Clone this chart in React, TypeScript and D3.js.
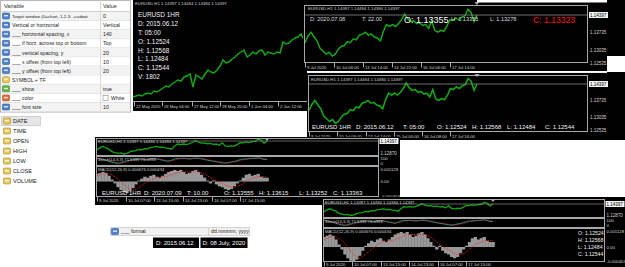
import React from 'react';
import * as d3 from 'd3';

const W = 625;
const H = 267;
const FONT = "'Liberation Sans', Arial, sans-serif";
const GREEN = '#12a812';
const AXIS_TXT = '#d4d4d4';
const FRAME = '#a8a8a8';
const TXT = '#f2f2f2';

// ---------- properties dialog ----------
const propNames = [
  'Target window (0=chart, 1-2-3...=subwi',
  'Vertical or horizontal',
  '___ horizontal spacing, x',
  '___ if horz, across top or bottom',
  '___ vertical spacing, y',
  '___ x offset (from top left)',
  '___ y offset (from top left)',
  'SYMBOL + TF',
  '___ show',
  '___ color',
  '___ font size',
];
const propValues = ['0', 'Vertical', '140', 'Top', '20', '10', '20', '', 'true', 'White', '10'];
const propKinds = ['num', 'num', 'num', 'num', 'num', 'num', 'num', 'str', 'bool', 'color', 'num'];
const fieldNames = ['DATE', 'TIME', 'OPEN', 'HIGH', 'LOW', 'CLOSE', 'VOLUME'];

// ---------- series ----------
const mayClose = [
  1.0915, 1.092, 1.0925, 1.092, 1.093, 1.0935, 1.093, 1.0945, 1.094, 1.095,
  1.096, 1.097, 1.0965, 1.098, 1.099, 1.1, 1.0995, 1.1015, 1.102, 1.103,
  1.0965, 1.1025, 1.1015, 1.1005, 1.103, 1.105, 1.104, 1.1035, 1.105, 1.107,
  1.11, 1.1085, 1.109, 1.1105, 1.1115, 1.113, 1.114, 1.115, 1.1115, 1.1125,
  1.114, 1.113, 1.1145, 1.115, 1.1125, 1.114, 1.1135, 1.113, 1.114, 1.1135,
  1.119, 1.118, 1.1185, 1.12, 1.121, 1.1215, 1.123, 1.12,
];
const julyClose = [
  1.13323, 1.13582, 1.1373, 1.13545, 1.13397, 1.13101, 1.1299, 1.12878, 1.12953, 1.12804,
  1.12878, 1.13064, 1.13175, 1.13212, 1.1336, 1.13323, 1.13471, 1.13434, 1.13619, 1.13656,
  1.1373, 1.13619, 1.13656, 1.13545, 1.13508, 1.13397, 1.13767, 1.14027, 1.13953, 1.14027,
  1.13953, 1.14064, 1.14212, 1.14434, 1.14249, 1.14138, 1.14175, 1.14064, 1.14101, 1.1399,
  1.14027, 1.13878, 1.14175, 1.13804, 1.1373, 1.13804, 1.13767, 1.13953, 1.14212, 1.14175,
  1.14286, 1.14212, 1.14323, 1.1436, 1.14619, 1.14508, 1.14138, 1.14397,
];
const stochMain = [
  86, 82, 74, 60, 45, 32, 22, 16, 24, 36, 50, 62, 70, 76, 80, 73, 66, 71, 80, 86,
  79, 70, 61, 52, 46, 60, 78, 88, 84, 88, 83, 78, 86, 92, 88, 80, 71, 62, 54, 46,
  40, 31, 24, 19, 27, 36, 42, 55, 69, 79, 77, 85, 88, 90, 94, 87, 70, 72,
];
const stochSignal = [
  84, 84, 80, 72, 60, 46, 33, 23, 21, 25, 35, 48, 60, 69, 75, 76, 73, 70, 72, 79,
  82, 78, 70, 61, 53, 53, 61, 75, 83, 87, 85, 83, 82, 85, 89, 87, 80, 71, 62, 54,
  47, 39, 32, 25, 23, 27, 35, 44, 55, 68, 75, 80, 83, 88, 91, 90, 84, 76,
];
const macdHist = [
  0.0008, 0.0009, 0.001, 0.0009, 0.0006, 0.0002, -0.0002, -0.0006, -0.0009, -0.0011,
  -0.0012, -0.001, -0.0007, -0.0003, 0.0001, 0.0003, 0.0005, 0.0004, 0.0006, 0.0007,
  0.0005, 0.0004, 0.0006, 0.0008, 0.001, 0.0011, 0.0012, 0.0011, 0.0012, 0.001,
  0.0008, 0.0009, 0.0011, 0.0012, 0.001, 0.0007, 0.0004, 0.0001, -0.0002, 0.0001,
  -0.0003, -0.0005, -0.0006, -0.0008, -0.0009, -0.0008, -0.0005, -0.0002, 0.0001, 0.0004,
  0.0007, 0.0008, 0.0006, 0.0007, 0.0008, 0.0005, 0.0004, 0.0004,
];
const macdSignal = [
  0.0006, 0.0007, 0.0008, 0.0008, 0.0008, 0.0007, 0.0005, 0.0003, 0.0, -0.0003,
  -0.0006, -0.0008, -0.0009, -0.0008, -0.0006, -0.0004, -0.0002, 0.0, 0.0002, 0.0003,
  0.0004, 0.0004, 0.0005, 0.0005, 0.0006, 0.0007, 0.0008, 0.0009, 0.001, 0.001,
  0.001, 0.001, 0.001, 0.001, 0.001, 0.0009, 0.0008, 0.0006, 0.0004, 0.0002,
  0.0001, -0.0001, -0.0002, -0.0004, -0.0005, -0.0006, -0.0006, -0.0005, -0.0004, -0.0002,
  0.0, 0.0002, 0.0003, 0.0004, 0.0005, 0.0005, 0.0005, 0.0005,
];

// ---------- tick labels ----------
const mayTickIdx = [0.3, 9.7, 19.5, 29, 38.5, 48.2];
const mayTickLabels = ['22 May 2020', '26 May 04:00', '27 May 12:00', '28 May 20:00', '1 Jun 04:00', '2 Jun 12:00'];
const julyTickIdx = [0, 9.6, 19.2, 28.8, 38.4, 48];
const julyLabelsA = ['9 Jul 2020', '10 Jul 06:00', '13 Jul 14:00', '14 Jul 22:00', '16 Jul 06:00', '17 Jul 14:00'];
const julyLabelsB = ['9 Jul 2020', '10 Jul 06:00', '13 Jul 14:00', '15 Jul 00:00', '16 Jul 08:00', '17 Jul 16:00'];
const julyLabelsC = ['9 Jul 2020', '10 Jul 07:00', '13 Jul 15:00', '14 Jul 23:00', '16 Jul 07:00', '17 Jul 15:00'];
const priceTicksBig = [1.14397, 1.13735, 1.13035, 1.12535];
const priceTicksSmall = [1.14397, 1.1287];
const stochTicks = [100, 0];
const macdTop = '0.001128';
const macdZero = '0.00';
const macdBottom = '-0.000403';
const currentPrice = 1.14397;

const titleText = 'EURUSD,H1  1.14397 1.14484 1.14384 1.14397';
const stochText = 'Stoch(14,3,3) 71.5399 79.0998';
const macdText = 'MACD(12,26,9) 0.000676 0.000434';

const infoLabels1 = ['EURUSD 1HR', 'D: 2015.06.12', 'T: 05:00', 'O: 1.12524', 'H: 1.12568', 'L: 1.12484', 'C: 1.12544', 'V: 1802'];
const ohlcRight = ['O: 1.12524', 'H: 1.12568', 'L: 1.12484', 'C: 1.12544'];

type Lin = d3.ScaleLinear<number, number>;

function pathOf(xs: Lin, ys: Lin, data: number[]) {
  return d3.line<number>().x((_, i) => xs(i)).y((d) => ys(d))(data) || '';
}

function TimeAxis({ xs, idx, labels, lineY, textY, x0, x1, drawLine = true }: any) {
  return (
    <g>
      {drawLine && <line x1={x0} x2={x1} y1={lineY} y2={lineY} stroke={FRAME} strokeWidth={1} />}
      {labels.map((l: string, k: number) => {
        const x = Math.round(xs(idx[k])) + 0.5;
        return (
          <g key={k}>
            <line x1={x} x2={x} y1={lineY} y2={lineY + 5} stroke={FRAME} strokeWidth={1} />
            <text x={x + 1.5} y={textY} fontSize={4.2} fill={AXIS_TXT} fontFamily={FONT}>{l}</text>
          </g>
        );
      })}
    </g>
  );
}

function PriceLabels({ ys, ticks, x }: any) {
  return (
    <g>
      {ticks.map((v: number, k: number) => {
        const y = ys(v);
        const cur = v === currentPrice;
        return (
          <g key={k}>
            {cur && <rect x={x - 1} y={y - 3} width={19} height={6} fill="#f4f4f4" />}
            <text x={x} y={y + 1.8} fontSize={4.5} fill={cur ? '#000' : AXIS_TXT} fontFamily={FONT}>{v.toFixed(5)}</text>
          </g>
        );
      })}
    </g>
  );
}

function Marker({ x, y }: any) {
  return <path d={`M${x - 2.5},${y} L${x + 2.5},${y} L${x},${y + 3} Z`} fill="#b0b0b0" />;
}

function Icon({ kind, x, y }: any) {
  const fills: any = { num: '#4f82c9', str: '#e6c85e', bool: '#62b54a', color: '#e4713a' };
  const strokes: any = { num: '#2c5c9e', str: '#a98a2a', bool: '#3b8a2a', color: '#a84818' };
  return (
    <g>
      <rect x={x} y={y} width={7} height={6} fill={fills[kind]} stroke={strokes[kind]} strokeWidth={0.6} rx={0.8} />
      <rect x={x + 1.5} y={y + 2} width={4} height={1.4} fill="#ffffff" opacity={0.8} />
    </g>
  );
}

function PropertiesTable() {
  const rowH = 9.1;
  const top = 11.5;
  return (
    <g fontFamily={FONT}>
      <rect x={0.5} y={0.5} width={130} height={top + rowH * propNames.length} fill="#fff" stroke="#b8b8b8" />
      <line x1={0} x2={131} y1={top} y2={top} stroke="#cfcfcf" />
      <text x={4} y={8} fontSize={5.6} fill="#333">Variable</text>
      <text x={103} y={8} fontSize={5.6} fill="#333">Value</text>
      {propNames.map((n, i) => {
        const y0 = top + i * rowH;
        const long = n.length > 34;
        return (
          <g key={i}>
            <rect x={1} y={y0 + 0.5} width={129} height={rowH - 1} fill={i % 2 === 0 ? '#f3f3f3' : '#ffffff'} />
            <line x1={1} x2={130} y1={y0 + rowH} y2={y0 + rowH} stroke="#e2e2e2" />
            <Icon kind={propKinds[i]} x={2.5} y={y0 + 1.5} />
            <text x={12} y={y0 + 6.6} fontSize={long ? 4.4 : 5.2} fill="#222">{n}</text>
            {propKinds[i] === 'color' && <rect x={103} y={y0 + 2} width={5} height={5} fill="#fff" stroke="#888" strokeWidth={0.6} />}
            <text x={propKinds[i] === 'color' ? 111 : 103} y={y0 + 6.6} fontSize={5.2} fill="#222">{propValues[i]}</text>
          </g>
        );
      })}
      <line x1={100.5} x2={100.5} y1={0} y2={top + rowH * propNames.length} stroke="#dadada" />
    </g>
  );
}

function FieldList() {
  return (
    <g fontFamily={FONT}>
      <rect x={1.5} y={116.5} width={39} height={9} fill="#e6e6e6" stroke="#d0d0d0" />
      {fieldNames.map((f, i) => {
        const cy = 121 + i * 10;
        return (
          <g key={i}>
            <Icon kind="str" x={3.5} y={cy - 3} />
            <text x={13} y={cy + 2} fontSize={5.6} fill="#222">{f}</text>
          </g>
        );
      })}
    </g>
  );
}

function Window1() {
  const xs = d3.scaleLinear().domain([0, mayClose.length - 1]).range([133, 304]);
  const ys = d3.scaleLinear().domain([1.09, 1.125]).range([100, 30]);
  return (
    <g fontFamily={FONT}>
      <rect x={133} y={0} width={174} height={111} fill="#000" />
      <path d={pathOf(xs, ys, mayClose)} fill="none" stroke={GREEN} strokeWidth={1.5} />
      <text x={135} y={5} fontSize={4.3} fill="#cfcfcf">{titleText}</text>
      {infoLabels1.map((t, i) => (
        <text key={i} x={138} y={[15, 23.5, 33, 42, 50.5, 59, 68, 77][i] + 2.4} fontSize={6.4} fill={TXT}>{t}</text>
      ))}
      <TimeAxis xs={xs} idx={mayTickIdx} labels={mayTickLabels} lineY={101.5} textY={107.5} x0={133} x1={307} />
    </g>
  );
}

function Window2() {
  const xs = d3.scaleLinear().domain([0, julyClose.length - 1]).range([305, 477]);
  const ys = d3.scaleLinear().domain([1.12535, 1.14397]).range([63, 15]);
  return (
    <g fontFamily={FONT}>
      <rect x={303} y={0} width={322} height={71} fill="#000" />
      <rect x={477} y={0} width={130} height={2.5} fill="#fff" />
      <rect x={607} y={56} width={18} height={16} fill="#fff" />
      <path d={pathOf(xs, ys, julyClose)} fill="none" stroke={GREEN} strokeWidth={1.5} />
      <line x1={305} x2={587} y1={ys(currentPrice)} y2={ys(currentPrice)} stroke="#8a8a8a" strokeWidth={0.8} />
      <rect x={304.5} y={5.5} width={283} height={57} fill="none" stroke={FRAME} />
      <text x={308} y={10} fontSize={4.3} fill="#cfcfcf">{titleText}</text>
      <text x={310} y={20.5} fontSize={5.6} fill="#dcdcdc">D: 2020.07.08</text>
      <text x={362} y={20.5} fontSize={5.6} fill="#dcdcdc">T: 22.00</text>
      <text x={451} y={20.5} fontSize={5.6} fill="#dcdcdc">H: 1.13355</text>
      <text x={404} y={22.5} fontSize={9} fill="#ffffff">O: 1.13355</text>
      <text x={490} y={20.5} fontSize={5.6} fill="#dcdcdc">L: 1.13278</text>
      <text x={533} y={22.5} fontSize={8.6} fill="#ff1010">C: 1.13323</text>
      <PriceLabels ys={ys} ticks={priceTicksBig} x={590} />
      <TimeAxis xs={xs} idx={julyTickIdx} labels={julyLabelsA} lineY={62.5} textY={68.5} x0={304} x1={588} drawLine={false} />
      <Marker x={xs(julyClose.length - 1)} y={2} />
    </g>
  );
}

function Window3() {
  const xs = d3.scaleLinear().domain([0, julyClose.length - 1]).range([309, 477]);
  const ys = d3.scaleLinear().domain([1.12535, 1.14397]).range([130, 84]);
  const row = [
    ['EURUSD 1HR', 312], ['D: 2015.06.12', 356], ['T: 05:00', 403], ['O: 1.12524', 437],
    ['H: 1.12568', 472], ['L: 1.12484', 507], ['C: 1.12544', 545],
  ];
  return (
    <g fontFamily={FONT}>
      <rect x={307} y={72} width={318} height={68} fill="#000" />
      <line x1={307} x2={607} y1={72.5} y2={72.5} stroke="#f0f0f0" strokeWidth={1.2} />
      <path d={pathOf(xs, ys, julyClose)} fill="none" stroke={GREEN} strokeWidth={1.6} />
      <line x1={309} x2={587} y1={ys(currentPrice)} y2={ys(currentPrice)} stroke="#8a8a8a" strokeWidth={0.8} />
      <rect x={308.5} y={75.5} width={279} height={56} fill="none" stroke={FRAME} />
      <text x={311} y={80.5} fontSize={4.3} fill="#cfcfcf">{titleText}</text>
      {row.map(([t, x], i) => (
        <text key={i} x={x as number} y={129} fontSize={6} fill={TXT}>{t}</text>
      ))}
      <PriceLabels ys={ys} ticks={priceTicksBig} x={590} />
      <TimeAxis xs={xs} idx={julyTickIdx} labels={julyLabelsB} lineY={131.5} textY={137.5} x0={308} x1={588} drawLine={false} />
      <Marker x={xs(julyClose.length - 1)} y={74} />
    </g>
  );
}

function IndicatorWindow({ x0, y0, w, h, plotR, dataR, main, stoch, macd, axisY, labels, showRow, rightCol }: any) {
  const xs = d3.scaleLinear().domain([0, julyClose.length - 1]).range([x0 + 2, dataR]);
  const ys = d3.scaleLinear().domain([1.1287, 1.14397]).range([main.b, main.t]);
  const ss = d3.scaleLinear().domain([0, 100]).range([stoch.bottom - 1, stoch.top + 1]);
  const ms = d3.scaleLinear().domain([-0.0012, 0.0012]).range([macd.lo, macd.hi]);
  const step = xs(1) - xs(0);
  const px = plotR + 2;
  return (
    <g fontFamily={FONT}>
      <rect x={x0} y={y0} width={w} height={h} fill="#000" />
      <defs>
        <clipPath id={`mclip${x0}`}>
          <rect x={x0 + 1} y={macd.top} width={plotR - x0 - 1} height={macd.bottom - macd.top} />
        </clipPath>
      </defs>
      <path d={pathOf(xs, ys, julyClose)} fill="none" stroke={GREEN} strokeWidth={1.3} />
      <line x1={x0 + 1} x2={plotR} y1={ys(currentPrice)} y2={ys(currentPrice)} stroke="#8a8a8a" strokeWidth={0.7} />
      <rect x={x0 + 1.5} y={main.top} width={plotR - x0 - 1.5} height={main.bottom - main.top} fill="none" stroke={FRAME} />
      <text x={x0 + 3} y={main.top + 4.5} fontSize={4.2} fill="#cfcfcf">{titleText}</text>
      <rect x={x0 + 1.5} y={stoch.top} width={plotR - x0 - 1.5} height={stoch.bottom - stoch.top} fill="none" stroke={FRAME} />
      <path d={pathOf(xs, ss, stochMain)} fill="none" stroke="#20b2aa" strokeWidth={0.8} />
      <path d={pathOf(xs, ss, stochSignal)} fill="none" stroke="#ff2020" strokeWidth={0.8} strokeDasharray="1,1" />
      <text x={x0 + 3} y={stoch.top + 4.3} fontSize={4.2} fill="#cfcfcf">{stochText}</text>
      <g clipPath={`url(#mclip${x0})`}>
        {macdHist.map((v, i) => (
          <rect key={i} x={xs(i) - step / 2} y={Math.min(ms(v), ms(0))} width={step + 0.3} height={Math.abs(ms(v) - ms(0))} fill="#999999" />
        ))}
        <path d={pathOf(xs, ms, macdSignal)} fill="none" stroke="#ff2020" strokeWidth={0.9} strokeDasharray="1,1" />
      </g>
      <rect x={x0 + 1.5} y={macd.top} width={plotR - x0 - 1.5} height={macd.bottom - macd.top} fill="none" stroke={FRAME} />
      <text x={x0 + 3} y={macd.top + 4.3} fontSize={4.2} fill="#cfcfcf">{macdText}</text>
      {showRow && showRow.map(([t, x]: any, i: number) => (
        <text key={i} x={x} y={showRow.y} fontSize={6} fill={TXT}>{t}</text>
      ))}
      {rightCol && ohlcRight.map((t, i) => (
        <text key={i} x={rightCol.x} y={rightCol.y + i * 7} fontSize={5.2} fill={TXT}>{t}</text>
      ))}
      <PriceLabels ys={ys} ticks={priceTicksSmall} x={px} />
      {stochTicks.map((v, i) => (
        <text key={i} x={px} y={ss(v) + (i === 0 ? 2.5 : 0.5)} fontSize={4.3} fill={AXIS_TXT}>{v}</text>
      ))}
      <text x={px} y={macd.top + 4} fontSize={4.3} fill={AXIS_TXT}>{macdTop}</text>
      <text x={px} y={ms(0) + 1.8} fontSize={4.3} fill={AXIS_TXT}>{macdZero}</text>
      <text x={px} y={macd.bottom + 1} fontSize={4.3} fill={AXIS_TXT}>{macdBottom}</text>
      <TimeAxis xs={xs} idx={julyTickIdx} labels={labels} lineY={macd.bottom} textY={axisY} x0={x0} x1={plotR} drawLine={false} />
      <Marker x={xs(julyClose.length - 1)} y={main.top - 0.5} />
    </g>
  );
}

const row4: any = [
  ['EURUSD 1HR', 102], ['D: 2020.07.09', 144], ['T: 10.00', 187], ['O: 1.13555', 224],
  ['H: 1.13615', 259], ['L: 1.13252', 299], ['C: 1.13363', 333],
];
row4.y = 194.5;

function FormatRow() {
  return (
    <g fontFamily={FONT}>
      <rect x={110.5} y={227.5} width={139} height={8} fill="#f1f1f1" stroke="#d2d2d2" />
      <Icon kind="num" x={111.5} y={228.5} />
      <text x={121} y={233.4} fontSize={5.2} fill="#222">___ format</text>
      <line x1={208.5} x2={208.5} y1={228} y2={235} stroke="#d2d2d2" />
      <text x={211} y={233.4} fontSize={5.2} fill="#222">dd.mmmm, yyyy</text>
      <rect x={153} y={237.5} width={46} height={10.5} fill="#000" />
      <text x={156} y={245} fontSize={6} fill="#fff">D: 2015.06.12</text>
      <rect x={200.5} y={237.5} width={47} height={10.5} fill="#000" />
      <text x={202.5} y={245} fontSize={6} fill="#fff">D: 08 July, 2020</text>
    </g>
  );
}

export default function App() {
  return (
    <svg width={W} height={H} viewBox={`0 0 ${W} ${H}`} style={{ position: 'absolute', left: 0, top: 0, display: 'block', background: '#fff' }}>
      <rect x={0} y={0} width={W} height={H} fill="#fff" />
      <PropertiesTable />
      <FieldList />
      <Window1 />
      <Window2 />
      <Window3 />
      <IndicatorWindow
        x0={95} y0={137} w={305} h={68} plotR={378.5} dataR={267}
        main={{ top: 138.5, bottom: 155.5, t: 141, b: 153.5 }}
        stoch={{ top: 156.5, bottom: 165.5 }}
        macd={{ top: 166.5, bottom: 196.5, hi: 170, lo: 193 }}
        axisY={201.5} labels={julyLabelsC} showRow={row4}
      />
      <IndicatorWindow
        x0={322} y0={197} w={303} h={70} plotR={604.5} dataR={493}
        main={{ top: 199.5, bottom: 217.5, t: 204, b: 215 }}
        stoch={{ top: 218.5, bottom: 227.5 }}
        macd={{ top: 228.5, bottom: 261.5, hi: 232, lo: 262 }}
        axisY={266} labels={julyLabelsC} rightCol={{ x: 578, y: 234.5 }}
      />
      <FormatRow />
    </svg>
  );
}
